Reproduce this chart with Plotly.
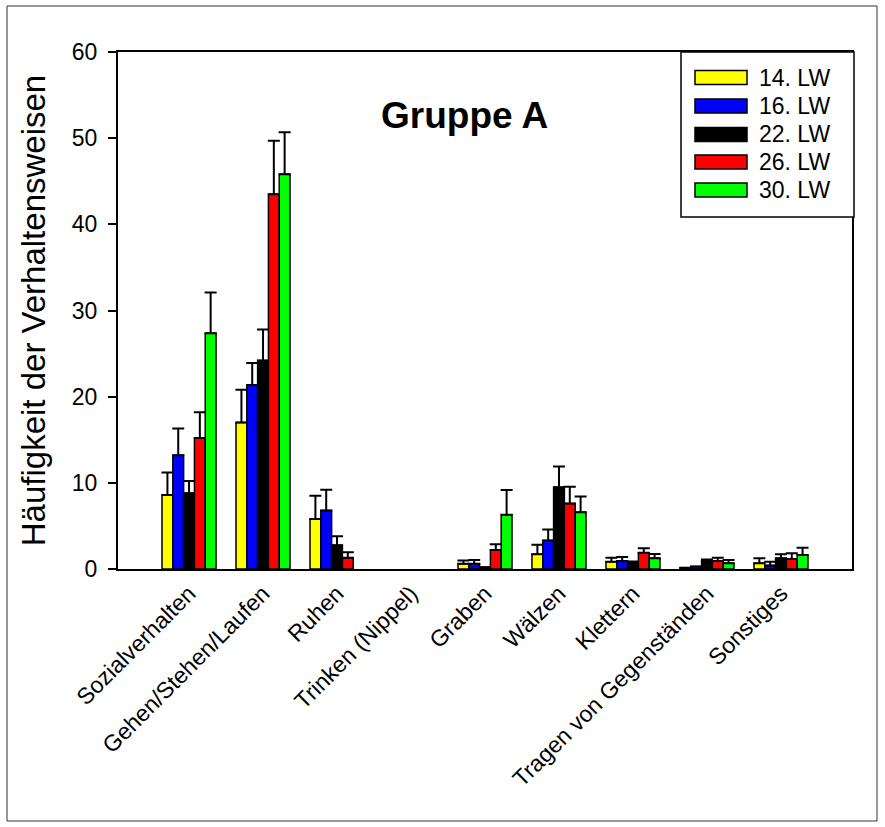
import plotly.graph_objects as go

categories = ["Sozialverhalten", "Gehen/Stehen/Laufen", "Ruhen", "Trinken (Nippel)",
              "Graben", "Wälzen", "Klettern", "Tragen von Gegenständen", "Sonstiges"]
series_names = ["14. LW", "16. LW", "22. LW", "26. LW", "30. LW"]
colors = ["#FFFF00", "#0000FF", "#000000", "#FF0000", "#00FF00"]

lw14 = [8.6, 17.0, 5.8, 0.0, 0.6, 1.7, 0.85, 0.15, 0.66]
lw16 = [13.2, 21.35, 6.8, 0.0, 0.6, 3.3, 0.93, 0.3, 0.4]
lw22 = [8.8, 24.2, 2.75, 0.0, 0.2, 9.5, 0.66, 0.93, 1.24]
lw26 = [15.2, 43.5, 1.3, 0.0, 2.2, 7.6, 1.9, 0.93, 1.16]
lw30 = [27.35, 45.8, 0.0, 0.0, 6.3, 6.6, 1.24, 0.66, 1.62]

err14 = [2.6, 3.8, 2.7, 0.0, 0.4, 1.1, 0.45, 0.0, 0.58]
err16 = [3.1, 2.55, 2.4, 0.0, 0.45, 1.27, 0.46, 0.0, 0.45]
err22 = [1.4, 3.6, 1.05, 0.0, 0.0, 2.4, 0.2, 0.17, 0.46]
err26 = [3.0, 6.2, 0.65, 0.0, 0.67, 1.95, 0.5, 0.37, 0.66]
err30 = [4.75, 4.9, 0.0, 0.0, 2.87, 1.8, 0.5, 0.38, 0.85]

values = [lw14, lw16, lw22, lw26, lw30]
errors = [err14, err16, err22, err26, err30]

FONT = "Liberation Sans, Arial, sans-serif"

fig = go.Figure()
for name, col, v, e in zip(series_names, colors, values, errors):
    fig.add_trace(go.Bar(
        x=list(range(len(categories))),
        y=[val if val > 0 else None for val in v], name=name,
        marker=dict(color=col, line=dict(color="black", width=1.5)),
        error_y=dict(type="data", array=[err if err > 0 else None for err in e],
                     arrayminus=[0 if err > 0 else None for err in e], symmetric=False,
                     color="black", thickness=2, width=6),
        showlegend=False,
    ))

fig.update_layout(
    width=885, height=827,
    margin=dict(l=118, r=33, t=52, b=258),
    paper_bgcolor="white", plot_bgcolor="white",
    barmode="group", bargap=0.27, bargroupgap=0,
    font=dict(family=FONT, size=22, color="black"),
)
fig.update_xaxes(
    range=[-0.96, 8.96], tickmode="array", tickvals=list(range(len(categories))),
    ticktext=categories, tickangle=-45, ticks="", showgrid=False, zeroline=False,
    showline=True, linecolor="black", linewidth=2, mirror=True,
    tickfont=dict(family=FONT, size=23, color="black"),
)
fig.update_yaxes(
    range=[0, 60], tickvals=[0, 10, 20, 30, 40, 50, 60], ticks="outside", ticklen=8,
    tickwidth=2, tickcolor="black", showgrid=False, zeroline=False,
    showline=True, linecolor="black", linewidth=2, mirror=True,
    ticklabelstandoff=6,
    tickfont=dict(family=FONT, size=23, color="black"),
    title=dict(text="Häufigkeit der Verhaltensweisen", font=dict(family=FONT, size=33), standoff=16),
)

# Title annotation
fig.add_annotation(text="<b>Gruppe A</b>", xref="paper", yref="paper", x=0.472, y=0.878,
                   xanchor="center", yanchor="middle",
                   showarrow=False, font=dict(family=FONT, size=37, color="black"))

# Outer frame
def px_x(p):
    return (p - 118) / 734.0

def px_y(p):
    return (569 - p) / 517.0

fig.add_shape(type="rect", xref="paper", yref="paper",
              x0=px_x(7), x1=px_x(877), y0=px_y(821), y1=px_y(6),
              line=dict(color="#333333", width=1), layer="below")

# Custom legend
fig.add_shape(type="rect", xref="paper", yref="paper",
              x0=px_x(681), x1=px_x(854), y0=px_y(217), y1=px_y(52),
              line=dict(color="black", width=1.5), fillcolor="white", layer="above")
row_y = [77.5, 106, 134.5, 162, 190]
for name, col, ry in zip(series_names, colors, row_y):
    fig.add_shape(type="rect", xref="paper", yref="paper",
                  x0=px_x(695), x1=px_x(747), y0=px_y(ry + 7), y1=px_y(ry - 7),
                  line=dict(color="black", width=1.5), fillcolor=col, layer="above")
    fig.add_annotation(text=name, xref="paper", yref="paper", x=px_x(757), y=px_y(ry),
                       xanchor="left", yanchor="middle", showarrow=False,
                       font=dict(family=FONT, size=23, color="black"))

fig.write_html("out.html")
